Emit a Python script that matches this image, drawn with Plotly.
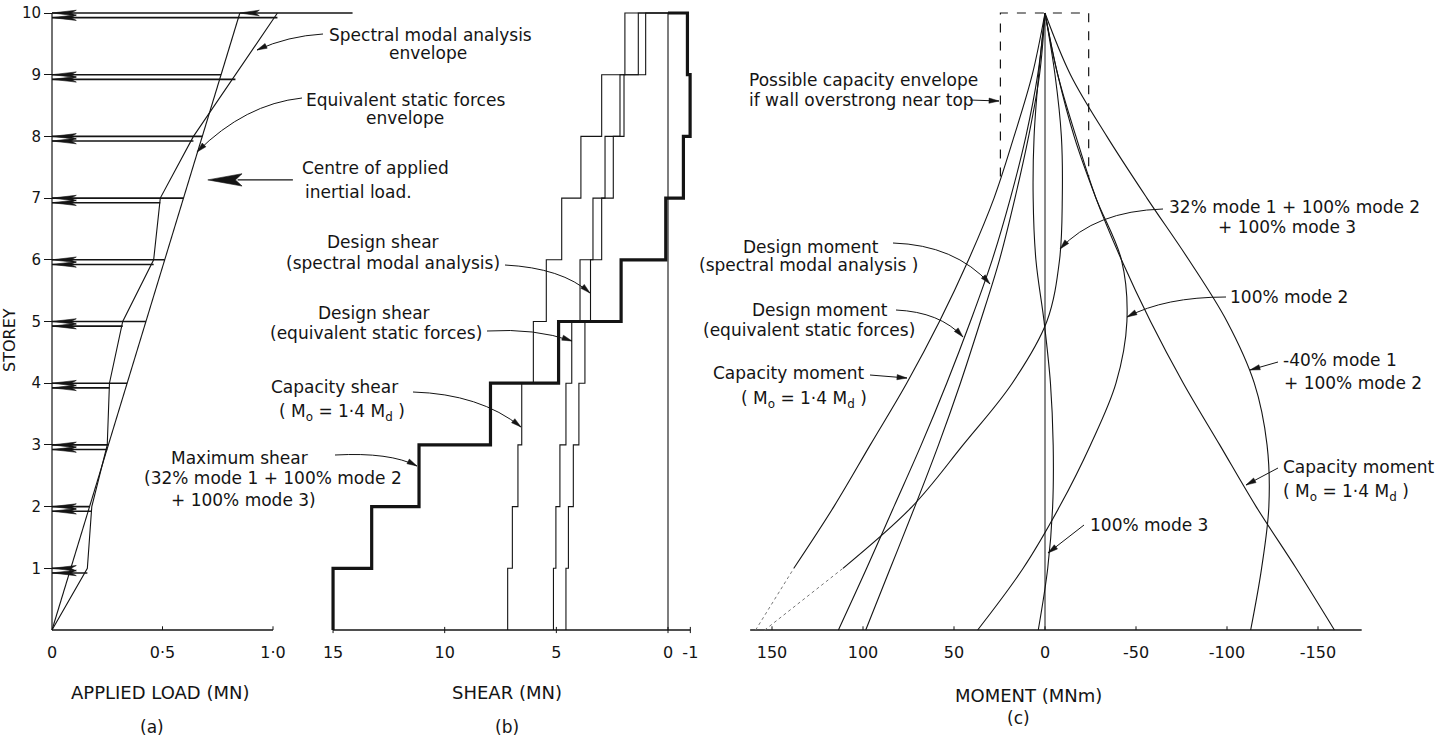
import math
import plotly.graph_objects as go

W, H = 1440, 740
FONT = "DejaVu Sans"
INK = "#141414"
LABEL_SIZE = 17
TITLE_SIZE = 18
TICK_SIZE = 16

# ---------------- (a) applied loads at each floor (MN) ----------------
floors = [1, 2, 3, 4, 5, 6, 7, 8, 9, 10]
static_load = [0.085, 0.17, 0.255, 0.34, 0.425, 0.51, 0.595, 0.68, 0.765, 0.85]
roof_extra_load = 0.51
spectral_load = [0.16, 0.18, 0.25, 0.26, 0.32, 0.46, 0.49, 0.64, 0.83, 1.02]
load_ticks = [0, 0.5, 1.0]
load_ticktext = ["0", "0·5", "1·0"]

# ---------------- (b) storey shears (MN), ground storey first ----------------
shear_capacity = [7.18, 6.97, 6.72, 6.55, 6.03, 5.45, 4.76, 3.90, 2.97, 1.93]
shear_static = [5.13, 5.02, 4.84, 4.57, 4.31, 3.94, 3.36, 2.82, 2.15, 1.33]
shear_spectral = [4.57, 4.46, 4.24, 3.99, 3.72, 3.47, 2.97, 2.45, 1.97, 1.00]
shear_maximum = [15.0, 13.27, 11.15, 7.95, 4.90, 2.10, 0.10, -0.69, -0.99, -0.87]
shear_ticks = [15, 10, 5, 0, -1]
shear_ticktext = ["15", "10", "5", "0", "-1"]

# ---------------- (c) moments at floor levels (MNm), base first ----------------
levels = [0, 1, 2, 3, 4, 5, 6, 7, 8, 9, 10]
moment_capacity = [159, 138, 116, 96, 76, 58, 42, 28, 17, 7, 0]
moment_static = [113.5, 98, 83, 68, 54, 41, 29, 19, 10.5, 4, 0]
moment_spectral = [98.5, 85, 71.5, 58.5, 46.5, 35.5, 25, 16.5, 9, 3, 0]
moment_mode2 = [37, 12, -8, -25, -39, -45, -42, -28, -16, -7, 0]
moment_mode3 = [3.7, -1.5, -4.2, -4.5, -3, 0.5, 5, 6.5, 6, 3.5, 0]
moment_combo_32 = [154, 111, 73, 45, 18, -1, -8, -9.5, -9, -5.5, 0]
moment_combo_m40 = [-113, -119, -123, -122, -115, -100, -79, -56, -34, -14, 0]
overstrong_moment = [24.5, -24.0]
overstrong_from_level = 7.35
moment_ticks = [150, 100, 50, 0, -50, -100, -150]
moment_ticktext = ["150", "100", "50", "0", "-50", "-100", "-150"]

# ---------------- page geometry (pixels) ----------------
Y_BASE, Y_STEP = 630, 61.7          # floor 0 and spacing of floors
A_ORIGIN, A_SCALE = 52, 221.0       # px of 0 MN, px per MN
B_ORIGIN, B_SCALE = 668, 22.33      # reversed axis
C_ORIGIN, C_SCALE = 1045, 1.82      # reversed axis
PLOT_BOTTOM = 640

fig = go.Figure()


def line(xs, ys, ax, width=1.1, dash=None, color=INK, shape="linear"):
    fig.add_trace(go.Scatter(
        x=xs, y=ys, mode="lines", xaxis=ax[0], yaxis=ax[1],
        line=dict(color=color, width=width, dash=dash, shape=shape),
        hoverinfo="skip", showlegend=False))


def polygons(xs, ys, ax):
    fig.add_trace(go.Scatter(
        x=xs, y=ys, mode="lines", fill="toself", fillcolor=INK,
        xaxis=ax[0], yaxis=ax[1], line=dict(color=INK, width=0.6),
        hoverinfo="skip", showlegend=False))


AX_A, AX_B, AX_C = ("x", "y"), ("x2", "y2"), ("x3", "y3")

# ---------------- panel (a) ----------------
line([0, 0], [0, 10], AX_A, 1.2)
line([0, load_ticks[-1]], [0, 0], AX_A, 1.4)
tx, ty = [], []
for t in load_ticks[1:]:
    tx += [t, t, None]
    ty += [0, 0.06, None]
line(tx, ty, AX_A, 1.0)

# envelopes
line([0] + static_load, [0] + floors, AX_A, 1.1)
line([0] + spectral_load, [0] + floors, AX_A, 1.1)

# force arrows: static at floor level, spectral just below
gap = 0.075
fx, fy, hx, hy = [], [], [], []
head_len, head_w = 0.11, 0.045


def arrow_head(x, y, length, width, store_x, store_y):
    store_x += [x, x + length, x + 0.78 * length, x + length, x, None]
    store_y += [y, y + width, y, y - width, y, None]


for f, s, sp in zip(floors, static_load, spectral_load):
    fx += [0, s, None]
    fy += [f, f, None]
    fx += [0, sp, None]
    fy += [f - gap, f - gap, None]
    arrow_head(0, f, head_len, head_w, hx, hy)
    arrow_head(0, f - gap, head_len, head_w, hx, hy)
top_floor, top_load = floors[-1], static_load[-1]
fx += [top_load, top_load + roof_extra_load, None]
fy += [top_floor, top_floor, None]
arrow_head(top_load, top_floor, head_len * 0.8, head_w, hx, hy)
line(fx, fy, AX_A, 1.6)
polygons(hx, hy, AX_A)

# centre of applied inertial load (static loads including the roof force)
loads_all = static_load[:-1] + [static_load[-1] + roof_extra_load]
centre = sum(f * p for f, p in zip(floors, loads_all)) / sum(loads_all)
line([0.84, 1.09], [centre, centre], AX_A, 1.3)
polygons([0.705, 0.86, 0.83, 0.86, 0.705], [centre, centre + 0.1, centre, centre - 0.1, centre], AX_A)

# ---------------- panel (b) ----------------
line([shear_ticks[0], shear_ticks[-1]], [0, 0], AX_B, 1.4)
tx, ty = [], []
for t in shear_ticks:
    tx += [t, t, None]
    ty += [-0.05, 0.05, None]
line(tx, ty, AX_B, 1.0)
line([0, 0], [0, 10], AX_B, 1.1)


def steps(values):
    xs, ys = [0], [len(values)]
    for k in range(len(values) - 1, -1, -1):
        xs += [values[k], values[k]]
        ys += [k + 1, k]
    return xs, ys


for vals in (shear_capacity, shear_static, shear_spectral):
    sx, sy = steps(vals)
    line(sx, sy, AX_B, 1.1)
sx, sy = steps(shear_maximum)
line(sx, sy, AX_B, 3.2)

# ---------------- panel (c) ----------------
line([162, -174], [0, 0], AX_C, 1.4)
tx, ty = [], []
for t in moment_ticks:
    tx += [t, t, None]
    ty += [0, 0.06, None]
line(tx, ty, AX_C, 1.0)
line([0, 0], [0, 10], AX_C, 1.0)

# possible capacity envelope if wall overstrong near top
line([overstrong_moment[0], overstrong_moment[0], overstrong_moment[1], overstrong_moment[1]],
     [overstrong_from_level, 10, 10, overstrong_from_level], AX_C, 1.2, dash="dash")

SPL = "spline"
line(moment_capacity[1:], levels[1:], AX_C, 1.1, shape=SPL)
line(moment_capacity[:2], levels[:2], AX_C, 1.0, dash="dot", color="#777")
line([-m for m in moment_capacity], levels, AX_C, 1.1, shape=SPL)
line(moment_static, levels, AX_C, 1.1, shape=SPL)
line(moment_spectral, levels, AX_C, 1.1, shape=SPL)
line(moment_mode2, levels, AX_C, 1.1, shape=SPL)
line(moment_mode3, levels, AX_C, 1.1, shape=SPL)
line(moment_combo_32[1:], levels[1:], AX_C, 1.1, shape=SPL)
line(moment_combo_32[:2], levels[:2], AX_C, 1.0, dash="dot", color="#777")
line(moment_combo_m40, levels, AX_C, 1.1, shape=SPL)

# ---------------- axes ----------------
y_dom = [1 - PLOT_BOTTOM / H, 1]
y_rng = [(Y_BASE - PLOT_BOTTOM) / Y_STEP, Y_BASE / Y_STEP]


def x_axis(lo_px, hi_px, origin, scale, reverse, anchor, vals, text):
    if reverse:
        rng = [(origin - lo_px) / scale, (origin - hi_px) / scale]
    else:
        rng = [(lo_px - origin) / scale, (hi_px - origin) / scale]
    return dict(domain=[lo_px / W, hi_px / W], range=rng, anchor=anchor,
                showgrid=False, zeroline=False, showline=False, ticks="",
                tickvals=vals, ticktext=text, ticklabelstandoff=1,
                tickfont=dict(family=FONT, size=TICK_SIZE, color=INK))


hidden_y = lambda anchor: dict(domain=y_dom, range=y_rng, anchor=anchor, visible=False)

fig.update_layout(
    width=W, height=H, margin=dict(l=0, r=0, t=0, b=0),
    paper_bgcolor="white", plot_bgcolor="rgba(0,0,0,0)",
    font=dict(family=FONT, size=LABEL_SIZE, color=INK),
    xaxis=x_axis(0, 360, A_ORIGIN, A_SCALE, False, "y", load_ticks, load_ticktext),
    xaxis2=x_axis(300, 720, B_ORIGIN, B_SCALE, True, "y2", shear_ticks, shear_ticktext),
    xaxis3=x_axis(700, 1440, C_ORIGIN, C_SCALE, True, "y3", moment_ticks, moment_ticktext),
    yaxis=dict(domain=y_dom, range=y_rng, anchor="free", position=A_ORIGIN / W,
               showgrid=False, zeroline=False, showline=False,
               tickvals=floors, ticktext=[str(f) for f in floors],
               ticks="outside", ticklen=8, tickwidth=1.2, tickcolor=INK,
               tickfont=dict(family=FONT, size=15, color=INK)),
    yaxis2=hidden_y("x2"),
    yaxis3=hidden_y("x3"),
)

# ---------------- labels and leader lines ----------------
shapes, notes = [], []


def label(text, x, y, anchor="center", size=LABEL_SIZE):
    notes.append(dict(text=text, x=x / W, y=1 - y / H, xref="paper", yref="paper",
                      xanchor=anchor, yanchor="middle", showarrow=False,
                      font=dict(family=FONT, size=size, color=INK)))


def leader(start, tip, ctrl=None, head=10, half=2.6):
    (x0, y0), (x1, y1) = start, tip
    if ctrl is None:
        ctrl = ((x0 + x1) / 2, (y0 + y1) / 2)
    cx, cy = ctrl
    shapes.append(dict(type="path", xref="paper", yref="paper",
                       path=f"M{x0/W},{1-y0/H} Q{cx/W},{1-cy/H} {x1/W},{1-y1/H}",
                       line=dict(color=INK, width=1)))
    dx, dy = x1 - cx, y1 - cy
    n = math.hypot(dx, dy) or 1
    ux, uy = dx / n, dy / n
    bx, by = x1 - ux * head, y1 - uy * head
    lx, ly = bx - uy * half, by + ux * half
    rx, ry = bx + uy * half, by - ux * half
    shapes.append(dict(type="path", xref="paper", yref="paper",
                       path=f"M{x1/W},{1-y1/H} L{lx/W},{1-ly/H} L{rx/W},{1-ry/H} Z",
                       fillcolor=INK, line=dict(color=INK, width=0.5)))


# panel (a)
label("Spectral modal analysis", 327, 35, "left")
label("envelope", 428, 53)
leader((323, 34), (257, 50), (288, 36))
label("Equivalent static forces", 304, 100, "left")
label("envelope", 405, 118)
leader((302, 98), (197, 152), (245, 104))
label("Centre of applied", 300, 168, "left")
label("inertial load.", 303, 192, "left")
label("STOREY", 9, 340, size=16)
notes[-1]["textangle"] = -90
label("APPLIED LOAD (MN)", 160, 692, size=TITLE_SIZE)
label("(a)", 152, 727)

# panel (b)
label("Design shear", 383, 242)
label("(spectral modal analysis)", 502, 263, "right")
leader((505, 265), (590, 293), (562, 268))
label("Design shear", 374, 313)
label("(equivalent static forces)", 484, 333, "right")
leader((487, 331), (572, 341), (535, 328))
label("Capacity shear", 400, 387, "right")
label("( M<sub>o</sub> = 1·4 M<sub>d</sub> )", 407, 412, "right")
leader((413, 392), (521, 427), (480, 394))
label("Maximum shear", 239, 458)
label("(32% mode 1 + 100% mode 2", 273, 478)
label("+ 100% mode 3)", 243, 500)
leader((335, 455), (417, 466), (390, 452))
label("SHEAR (MN)", 507, 692, size=TITLE_SIZE)
label("(b)", 507, 727)

# panel (c)
label("Possible capacity envelope", 747, 80, "left")
label("if wall overstrong near top", 747, 100, "left")
leader((970, 100), (999, 101))
label("Design moment", 811, 247)
label("(spectral modal analysis )", 920, 265, "right")
leader((893, 243), (990, 284), (955, 245))
label("Design moment", 820, 310)
label("(equivalent static forces)", 917, 330, "right")
leader((896, 310), (963, 337), (940, 312))
label("Capacity moment", 866, 373, "right")
label("( M<sub>o</sub> = 1·4 M<sub>d</sub> )", 804, 399)
leader((870, 375), (907, 378))
label("32% mode 1 + 100% mode 2", 1167, 207, "left")
label("+ 100% mode 3", 1287, 227)
leader((1163, 209), (1060, 249), (1095, 211))
label("100% mode 2", 1228, 297, "left")
leader((1226, 297), (1127, 317), (1165, 297))
label("-40% mode 1", 1281, 360, "left")
label("+ 100% mode 2", 1282, 383, "left")
leader((1278, 362), (1250, 370))
label("Capacity moment", 1281, 467, "left")
label("( M<sub>o</sub> = 1·4 M<sub>d</sub> )", 1281, 492, "left")
leader((1278, 468), (1246, 485))
label("100% mode 3", 1088, 525, "left")
leader((1084, 525), (1048, 553))
label("MOMENT (MNm)", 1028, 695, size=TITLE_SIZE)
label("(c)", 1018, 718)

fig.update_layout(shapes=shapes, annotations=notes)
fig.write_html("out.html")
